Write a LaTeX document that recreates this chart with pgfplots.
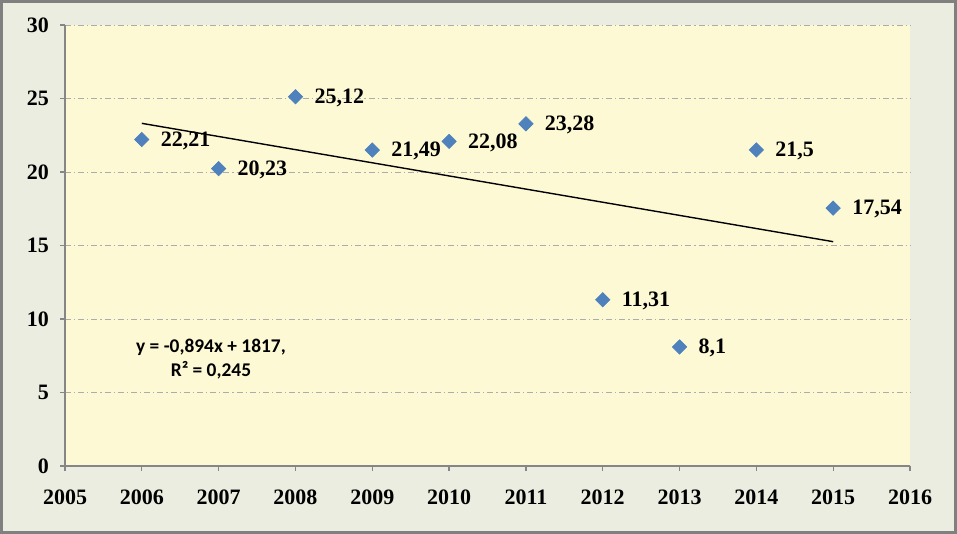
\documentclass[border=0pt]{standalone}
\usepackage{fontspec}
\setmainfont{Liberation Serif}
\newfontfamily\calibri{Carlito}
\usepackage{pgfplots}
\pgfplotsset{compat=1.18}
\definecolor{outerbg}{RGB}{235,237,224}
\definecolor{plotbg}{RGB}{253,249,212}
\definecolor{framegray}{RGB}{128,128,128}
\definecolor{axgray}{RGB}{134,134,134}
\definecolor{markblue}{RGB}{79,129,189}
\begin{document}
\begin{tikzpicture}
\fill[outerbg] (-32.5pt,-34pt) rectangle (446pt,233pt);
\draw[framegray, line width=1.5pt] (-31.75pt,-33.25pt) rectangle (445.25pt,232.25pt);
\path[use as bounding box] (-32.5pt,-34pt) rectangle (446pt,233pt);
\begin{axis}[
  at={(0,0)}, anchor=south west,
  width=422.5pt, height=220.5pt, scale only axis,
  xmin=2005, xmax=2016, ymin=0, ymax=30,
  xtick={2005,2006,...,2016}, ytick={0,5,...,30},
  axis lines*=left,
  axis line style={axgray, line width=0.6pt},
  tick style={axgray, line width=0.6pt},
  tick align=outside, major tick length=2.5pt,
  axis background/.style={fill=plotbg},
  ymajorgrids,
  grid style={gray!65, line width=0.4pt, dash pattern=on 3pt off 1.5pt on 0.6pt off 1.5pt},
  /pgf/number format/assume math mode=true,
  /pgf/number format/1000 sep={},
  ticklabel style={font=\fontsize{11}{13}\selectfont\bfseries, text=black},
  xticklabel style={yshift=-6pt},
  yticklabel style={xshift=-2pt},
  clip=false,
]
\addplot[black, line width=0.7pt] coordinates {(2006,23.31) (2015,15.26)};
\addplot[only marks, mark=square*, mark size=2.5pt,
  mark options={rotate=45, fill=markblue, draw=markblue},
  nodes near coords, point meta=explicit symbolic,
  nodes near coords style={anchor=west, xshift=6pt, yshift=-0.5pt, font=\fontsize{11}{13}\selectfont\bfseries, text=black}]
  table[x=x, y=y, meta=lab] {
x y lab
2006 22.21 22,21
2007 20.23 20,23
2008 25.12 25,12
2009 21.49 21,49
2010 22.08 22,08
2011 23.28 23,28
2012 11.31 11,31
2013 8.1 8,1
2014 21.5 21,5
2015 17.54 17,54
};
\node[align=center, font=\calibri\bfseries\fontsize{9.7}{12}\selectfont] at (axis cs:2006.90,7.3) {y = -0,894x + 1817,\\R² = 0,245};
\end{axis}
\end{tikzpicture}
\end{document}
